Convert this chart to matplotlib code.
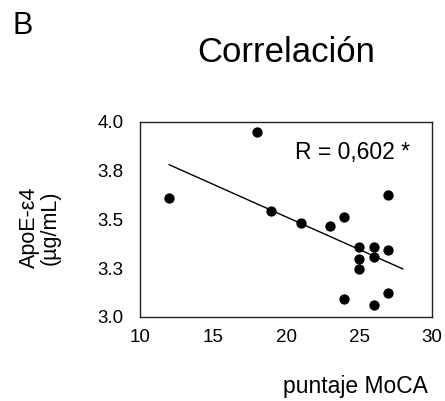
import matplotlib
matplotlib.use("Agg")
import matplotlib.pyplot as plt
import numpy as np

# MoCA score vs ApoE-e4 concentration
moca = [12, 18, 19, 21, 23, 24, 27, 25, 26, 27, 25, 26, 25, 24, 26, 27]
apoe = [3.61, 3.95, 3.545, 3.48, 3.465, 3.513, 3.624, 3.36, 3.36, 3.344,
        3.297, 3.309, 3.248, 3.09, 3.062, 3.125]

trend_span = [12, 28]
y_ticks = [3.0, 3.25, 3.5, 3.75, 4.0]
y_tick_labels = ["3.0", "3.3", "3.5", "3.8", "4.0"]
x_ticks = [10, 15, 20, 25, 30]

plt.rcParams["font.family"] = ["Liberation Sans", "DejaVu Sans"]

fig = plt.figure(figsize=(4.45, 4.01), dpi=100)
ax = fig.add_axes([0.3146, 0.2095, 0.6562, 0.4863])

ax.scatter(moca, apoe, s=55, color="black", zorder=3, linewidths=0)

slope, intercept = np.polyfit(moca, apoe, 1)
xs = np.array(trend_span, dtype=float)
ax.plot(xs, slope * xs + intercept, color="black", linewidth=1.0)

ax.set_xlim(10, 30)
ax.set_ylim(3.0, 4.0)
ax.set_xticks(x_ticks)
ax.set_yticks(y_ticks)
ax.set_yticklabels(y_tick_labels)
ax.tick_params(length=0, labelsize=13.5)
ax.tick_params(axis="y", pad=12)
ax.tick_params(axis="x", pad=9)
for sp in ax.spines.values():
    sp.set_linewidth(1.0)
    sp.set_color("#222222")

ax.text(0.531, 0.846, "R = 0,602 *", transform=ax.transAxes,
        fontsize=16.5, ha="left", va="center")

fig.text(0.029, 0.934, "B", fontsize=22, ha="left", va="center")
fig.text(0.643, 0.868, "Correlación", fontsize=25, ha="center", va="center")
fig.text(0.962, 0.035, "puntaje MoCA", fontsize=16.5, ha="right", va="center")
fig.text(0.09, 0.433, "ApoE-ε4\n(µg/mL)", fontsize=15.5, rotation=90,
         ha="center", va="center", multialignment="center", linespacing=1.0)

fig.savefig("out.png", dpi=100, facecolor="white")
